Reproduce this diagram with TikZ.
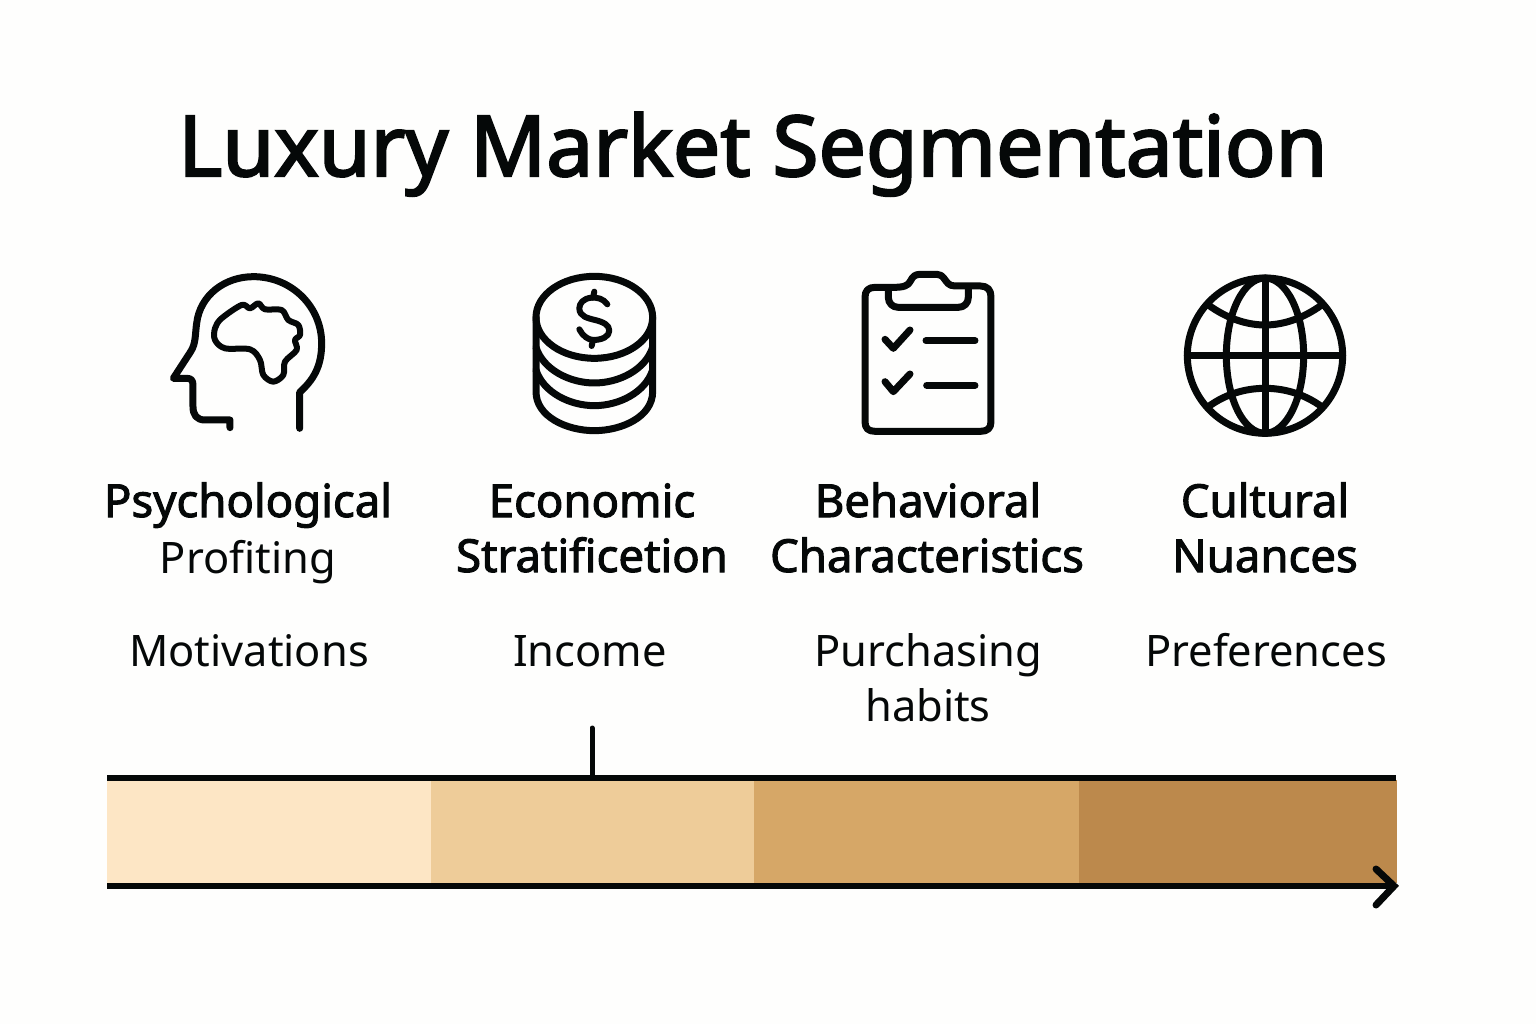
\documentclass[tikz,border=0pt]{standalone}
\usepackage{fontspec}
\setmainfont{Noto Sans}
\newfontfamily\medfont[FakeBold=2.2]{Noto Sans}
\newfontfamily\titlefont[FakeBold=2.6]{Noto Sans}
\definecolor{bgc}{HTML}{FEFEFD}
\definecolor{inkc}{HTML}{050808}
\definecolor{segA}{HTML}{FDE6C5}
\definecolor{segB}{HTML}{EECC99}
\definecolor{segC}{HTML}{D6A767}
\definecolor{segD}{HTML}{BC894C}
\tikzset{
  titletext/.style={anchor=base,inner sep=0pt,text=inkc,font=\titlefont\fontsize{84}{90}\selectfont},
  headtext/.style={anchor=base,inner sep=0pt,text=inkc,font=\medfont\fontsize{45.5}{50}\selectfont},
  bodytext/.style={anchor=base,inner sep=0pt,text=inkc,font=\fontsize{43.4}{50}\selectfont},
  icon/.style={draw=inkc,line width=7pt,line cap=round,line join=round},
  iconthin/.style={draw=inkc,line width=6pt,line cap=round,line join=round},
  rule/.style={draw=inkc,line width=5.5pt},
  seg/.style={draw=none,inner sep=0pt}
}
\begin{document}
\begin{tikzpicture}[x=1pt,y=-1pt]
\useasboundingbox (0,0) rectangle (1536,1024);
\fill[bgc] (0,0) rectangle (1536,1024);
\node[titletext] (title) at (753,176) {Luxury Market Segmentation};
% head icon
\begin{scope}[shift={(150,260)},x=0.3333pt,y=-0.3333pt]
\draw[icon] (240,503) -- (240,480) -- (165,480) .. controls (140,480) and (129,465) .. (129,440)
  -- (129,375) .. controls (129,360) and (122,355) .. (110,355) -- (70,355) -- (122,275)
  .. controls (138,250) and (135,225) .. (140,190) .. controls (150,105) and (225,50) .. (310,50)
  .. controls (425,50) and (515,140) .. (515,250) .. controls (515,320) and (490,360) .. (449,397) -- (449,505);
\draw[iconthin] plot[smooth cycle,tension=0.55] coordinates {(275,135) (300,145) (325,130) (345,148) (395,150) (415,180) (445,195) (450,225) (435,240) (440,270) (405,305) (400,345) (370,365) (340,345) (330,300) (300,268) (225,265) (195,240) (195,205) (215,175)};
\end{scope}
% coins icon
\begin{scope}[shift={(510,260)},x=0.3333pt,y=-0.3333pt]
\draw[icon] (253,172) ellipse [x radius=175,y radius=123];
\draw[icon] (78,172) -- (78,395) .. controls (78,470) and (170,512) .. (253,512) .. controls (336,512) and (428,470) .. (428,395) -- (428,172);
\draw[icon] (78,262) .. controls (100,330) and (180,369) .. (253,369) .. controls (326,369) and (406,330) .. (428,262);
\draw[icon] (78,330) .. controls (100,398) and (180,437) .. (253,437) .. controls (326,437) and (406,398) .. (428,330);
\draw[iconthin] (292,133) .. controls (280,115) and (260,112) .. (245,113) .. controls (220,115) and (208,130) .. (208,145)
  .. controls (208,170) and (235,175) .. (255,180) .. controls (280,186) and (298,195) .. (298,212)
  .. controls (298,230) and (275,240) .. (250,240) .. controls (235,240) and (218,228) .. (208,208);
\draw[iconthin] (253,95) -- (249,113) (249,240) -- (245,258);
\end{scope}
% clipboard icon
\begin{scope}[shift={(840,260)},x=0.3333pt,y=-0.3333pt]
\draw[icon] (160,82) -- (105,82) .. controls (85,82) and (75,92) .. (75,112) -- (75,485) .. controls (75,505) and (85,514) .. (105,514)
  -- (422,514) .. controls (442,514) and (453,505) .. (453,485) -- (453,110) .. controls (453,90) and (442,78) .. (422,78) -- (345,78)
  .. controls (325,78) and (320,65) .. (312,55) .. controls (305,46) and (298,43) .. (290,43) -- (240,43)
  .. controls (225,43) and (218,50) .. (212,62) .. controls (205,78) and (190,82) .. (160,82);
\draw[icon] (145,88) -- (145,112) .. controls (145,130) and (158,142) .. (175,142) -- (355,142) .. controls (372,142) and (385,130) .. (385,112) -- (385,85);
\draw[icon] (135,238) -- (160,265) -- (210,210);
\draw[icon] (135,365) -- (160,395) -- (210,342);
\draw[icon] (258,242) -- (405,242);
\draw[icon] (260,376) -- (405,376);
\end{scope}
% globe icon
\begin{scope}[shift={(1170,260)},x=0.3333pt,y=-0.3333pt]
\draw[icon] (285,287) circle [x radius=233,y radius=233];
\draw[icon] (285,287) ellipse [x radius=116,y radius=233];
\draw[icon] (285,54) -- (285,520);
\draw[icon] (52,287) -- (518,287);
\draw[icon,line cap=butt] (115,135) .. controls (170,175) and (230,195) .. (285,195) .. controls (340,195) and (400,175) .. (455,135);
\draw[icon,line cap=butt] (115,440) .. controls (170,400) and (230,385) .. (285,385) .. controls (340,385) and (400,400) .. (455,440);
\end{scope}
% labels
\node[headtext] (h1) at (248,517) {Psychological};
\node[bodytext] (h1b) at (248,573) {Profiting};
\node[headtext] (h2) at (592,517) {Economic};
\node[headtext] (h2b) at (592,572) {Stratificetion};
\node[headtext] (h3) at (928,517) {Behavioral};
\node[headtext] (h3b) at (927,572) {Characteristics};
\node[headtext] (h4) at (1265,517) {Cultural};
\node[headtext] (h4b) at (1265,572) {Nuances};
\node[bodytext] (b1) at (249,666) {Motivations};
\node[bodytext] (b2) at (590,666) {Income};
\node[bodytext] (b3) at (928,666) {Purchasing};
\node[bodytext] (b3b) at (928,721) {habits};
\node[bodytext] (b4) at (1266,666) {Preferences};
% bar
\fill[segA] (107,780) rectangle (431.5,883);
\fill[segB] (431,780) rectangle (754.5,883);
\fill[segC] (754,780) rectangle (1079.5,883);
\fill[segD] (1079,780) rectangle (1397,883);
\coordinate (topL) at (107,778);
\coordinate (topR) at (1396,778);
\coordinate (tickTop) at (592,728);
\coordinate (tickBase) at (592,776);
\coordinate (axisL) at (107,886);
\coordinate (axisR) at (1394,886);
\coordinate (chevA) at (1376,869);
\coordinate (chevB) at (1376,905);
\draw[rule] (topL) -- (topR);
\draw[draw=inkc,line width=5pt,line cap=round] (tickTop) -- (tickBase);
\draw[rule] (axisL) -- (axisR);
\draw[draw=inkc,line width=7pt,line cap=round,line join=miter] (chevA) -- (axisR) -- (chevB);
\end{tikzpicture}
\end{document}
